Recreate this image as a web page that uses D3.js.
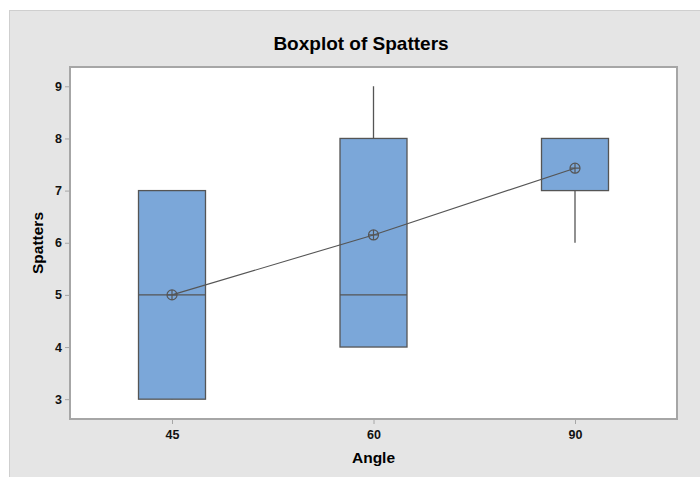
<html>
<head>
  <title>Boxplot of Spatters</title>
  <script src="https://cdn.jsdelivr.net/npm/d3@7"></script>
  <style>
    body { margin: 0; background: #fff; }
    text { font-family: "Liberation Sans", Arial, sans-serif; }
  </style>
</head>
<body>
<script>
  // Data
  const angles = ["45", "60", "90"];
  const q1 = [3, 4, 7];
  const q3 = [7, 8, 8];
  const medians = [5, 5, 8];
  const whiskerLow = [3, 4, 6];
  const whiskerHigh = [7, 9, 8];
  const means = [5, 6.15, 7.43];
  const yTicks = [3, 4, 5, 6, 7, 8, 9];

  const w = 700, h = 477;
  const plotLeft = 70, plotRight = 677, plotTop = 67, plotBottom = 419;

  const svg = d3.select("body").append("svg")
    .attr("width", w).attr("height", h);

  // gray frame
  svg.append("rect")
    .attr("x", 9.5).attr("y", 10.5)
    .attr("width", w).attr("height", h)
    .attr("fill", "#e5e5e5").attr("stroke", "#cfcfcf");

  // plot area
  svg.append("rect")
    .attr("x", plotLeft).attr("y", plotTop)
    .attr("width", plotRight - plotLeft).attr("height", plotBottom - plotTop)
    .attr("fill", "#fff").attr("stroke", "#a6a6a6").attr("stroke-width", 2);

  const x = d3.scalePoint().domain(angles).range([71.25, 675.75]).padding(0.5);
  const y = d3.scaleLinear().domain([2.62, 9.37]).range([plotBottom, plotTop]);
  const boxW = 67;

  // axes
  const yAxis = d3.axisLeft(y).tickValues(yTicks).tickFormat(d3.format("d")).tickSize(4).tickPadding(3);
  const gy = svg.append("g").attr("transform", "translate(" + (plotLeft - 1) + ",0)").call(yAxis);
  gy.select(".domain").remove();
  gy.selectAll("line").attr("stroke", "#a6a6a6");
  gy.selectAll("text").attr("font-size", 12.5).attr("font-weight", "bold").attr("fill", "#111");

  const xAxis = d3.axisBottom(x).tickSize(4).tickPadding(6);
  const gx = svg.append("g").attr("transform", "translate(0," + (plotBottom + 1) + ")").call(xAxis);
  gx.select(".domain").remove();
  gx.selectAll("line").attr("stroke", "#a6a6a6");
  gx.selectAll("text").attr("font-size", 12.5).attr("font-weight", "bold").attr("fill", "#111");

  const idx = d3.range(angles.length);
  const stroke = "#555";

  // whiskers
  svg.selectAll(".whisk").data(idx).enter().append("line")
    .attr("x1", i => x(angles[i])).attr("x2", i => x(angles[i]))
    .attr("y1", i => y(whiskerLow[i])).attr("y2", i => y(whiskerHigh[i]))
    .attr("stroke", stroke).attr("stroke-width", 1.3);

  // boxes
  svg.selectAll(".box").data(idx).enter().append("rect")
    .attr("x", i => x(angles[i]) - boxW / 2)
    .attr("y", i => y(q3[i]))
    .attr("width", boxW)
    .attr("height", i => y(q1[i]) - y(q3[i]))
    .attr("fill", "#7ba7d9").attr("stroke", stroke).attr("stroke-width", 1.3);

  // medians
  svg.selectAll(".med").data(idx).enter().append("line")
    .attr("x1", i => x(angles[i]) - boxW / 2).attr("x2", i => x(angles[i]) + boxW / 2)
    .attr("y1", i => y(medians[i])).attr("y2", i => y(medians[i]))
    .attr("stroke", stroke).attr("stroke-width", 1.1);

  // mean connect line
  const line = d3.line().x(i => x(angles[i])).y(i => y(means[i]));
  svg.append("path").datum(idx).attr("d", line)
    .attr("fill", "none").attr("stroke", stroke).attr("stroke-width", 1.1);

  // mean symbols (circle with cross)
  const r = 5;
  const sym = svg.selectAll(".mean").data(idx).enter().append("g")
    .attr("transform", i => "translate(" + x(angles[i]) + "," + y(means[i]) + ")");
  sym.append("circle").attr("r", r).attr("fill", "none").attr("stroke", stroke).attr("stroke-width", 1.2);
  sym.append("path").attr("d", "M" + (-r) + ",0H" + r + "M0," + (-r) + "V" + r)
    .attr("stroke", stroke).attr("stroke-width", 1.2);

  // titles
  svg.append("text").attr("x", 361).attr("y", 50).attr("text-anchor", "middle")
    .attr("font-size", 19).attr("font-weight", "bold").text("Boxplot of Spatters");
  svg.append("text").attr("x", x("60")).attr("y", 463).attr("text-anchor", "middle")
    .attr("font-size", 15.5).attr("font-weight", "bold").text("Angle");
  svg.append("text").attr("transform", "translate(43," + ((plotTop + plotBottom) / 2) + ") rotate(-90)")
    .attr("text-anchor", "middle")
    .attr("font-size", 15.5).attr("font-weight", "bold").text("Spatters");
</script>
</body>
</html>
